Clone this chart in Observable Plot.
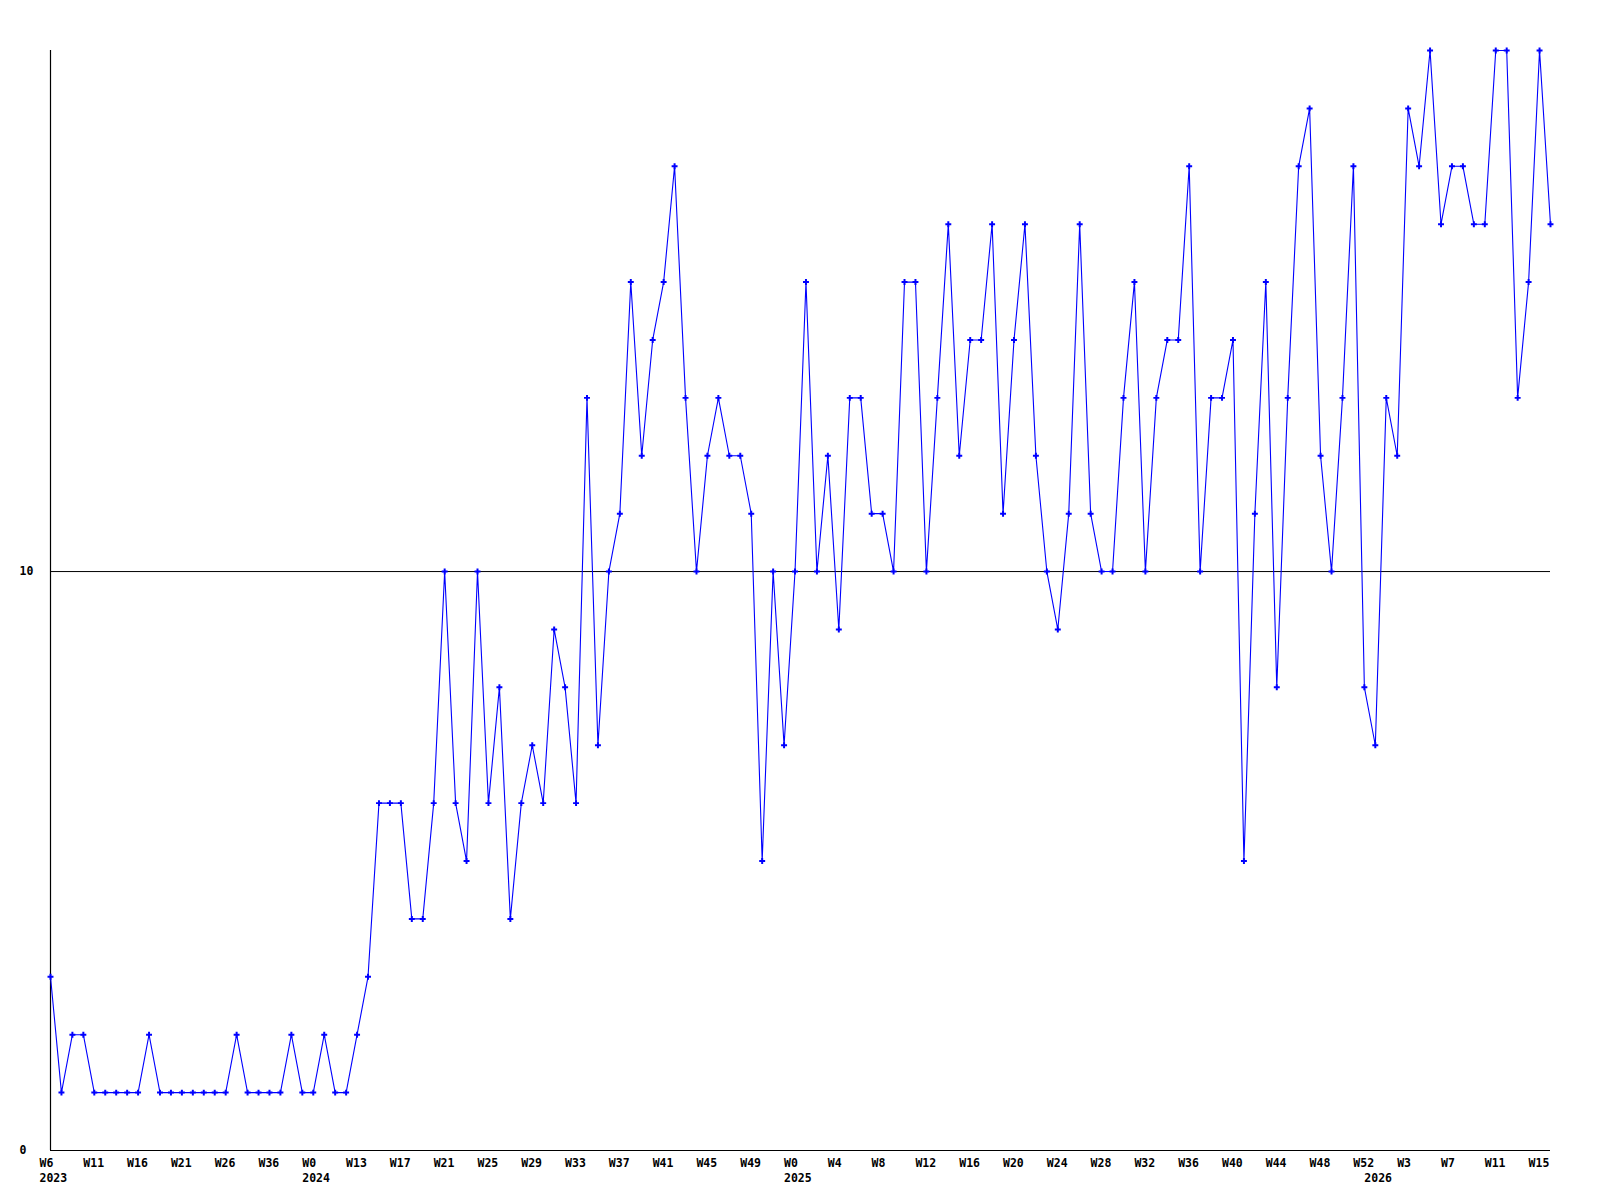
<!DOCTYPE html>
<html>
<head>
<meta charset="utf-8">
<script src="https://cdn.jsdelivr.net/npm/d3@7"></script>
<script src="https://cdn.jsdelivr.net/npm/@observablehq/plot@0.6"></script>
<style>
  html, body { margin: 0; padding: 0; background: #fff; }
  #chart svg { display: block; }
</style>
</head>
<body>
<div id="chart"></div>
<script>
// Weekly counts, one per plotted week (138 points)
const values = [
  3,1,2,2,1,1,1,1,1,2,1,1,1,1,1,1,1,2,1,1,1,1,2,1,
  1,2,1,1,2,3,6,6,6,4,4,6,10,6,5,10,6,8,4,6,7,6,9,8,6,13,7,10,11,15,12,14,15,17,13,10,12,13,12,12,11,5,10,7,
  10,15,10,12,9,13,13,11,11,10,15,15,10,13,16,12,14,14,16,11,14,16,12,10,9,11,16,11,10,10,13,15,10,13,14,14,17,10,13,13,14,5,11,15,8,13,17,18,12,10,13,17,8,
  7,13,12,18,17,19,16,17,17,16,16,19,19,13,15,19,16
];
// Week tick labels, one for every 4th point
const weekLabels = [
  "W6","W11","W16","W21","W26","W36",
  "W0","W13","W17","W21","W25","W29","W33","W37","W41","W45","W49",
  "W0","W4","W8","W12","W16","W20","W24","W28","W32","W36","W40","W44","W48","W52",
  "W3","W7","W11","W15"
];
const tickEvery = 4;
// Year labels and the point index where each year starts
const years = ["2023","2024","2025","2026"];
const yearStartIndex = [0, 24, 68, 121];

const points = values.map((v, i) => ({i, v}));
const weekTicks = weekLabels.map((label, k) => ({i: k * tickEvery, label}));
const yearTicks = years.map((label, k) => ({i: yearStartIndex[k], label}));

const font = {fontFamily: "'DejaVu Sans Mono', monospace", fontWeight: "bold", fontSize: "11.5px"};

const chart = Plot.plot({
  width: 1600,
  height: 1200,
  marginLeft: 50,
  marginRight: 50,
  marginTop: 50,
  marginBottom: 50,
  style: {...font, color: "#000", background: "#fff"},
  x: {type: "linear", domain: [0, values.length - 1], axis: null},
  y: {domain: [0, 19], axis: null},
  marks: [
    Plot.ruleY([10], {stroke: "#000", strokeWidth: 1}),
    Plot.ruleX([0], {stroke: "#000", strokeWidth: 1.2}),
    Plot.ruleY([0], {stroke: "#000", strokeWidth: 1.2}),
    Plot.axisY({ticks: [0, 10], label: null, tickSize: 0, tickPadding: 31, textAnchor: "start", tickFormat: d => String(d), fill: "#000"}),
    Plot.line(points, {x: "i", y: "v", stroke: "#0000ff", strokeWidth: 1.1}),
    Plot.dot(points, {x: "i", y: "v", symbol: "cross", r: 2.5, fill: "#0000ff", stroke: null}),
    Plot.text(weekTicks, {x: "i", text: "label", frameAnchor: "bottom", lineAnchor: "top", textAnchor: "start", dx: -11, dy: 8, fill: "#000"}),
    Plot.text(yearTicks, {x: "i", text: "label", frameAnchor: "bottom", lineAnchor: "top", textAnchor: "start", dx: -11, dy: 23, fill: "#000"})
  ]
});
document.getElementById("chart").appendChild(chart);
</script>
</body>
</html>
